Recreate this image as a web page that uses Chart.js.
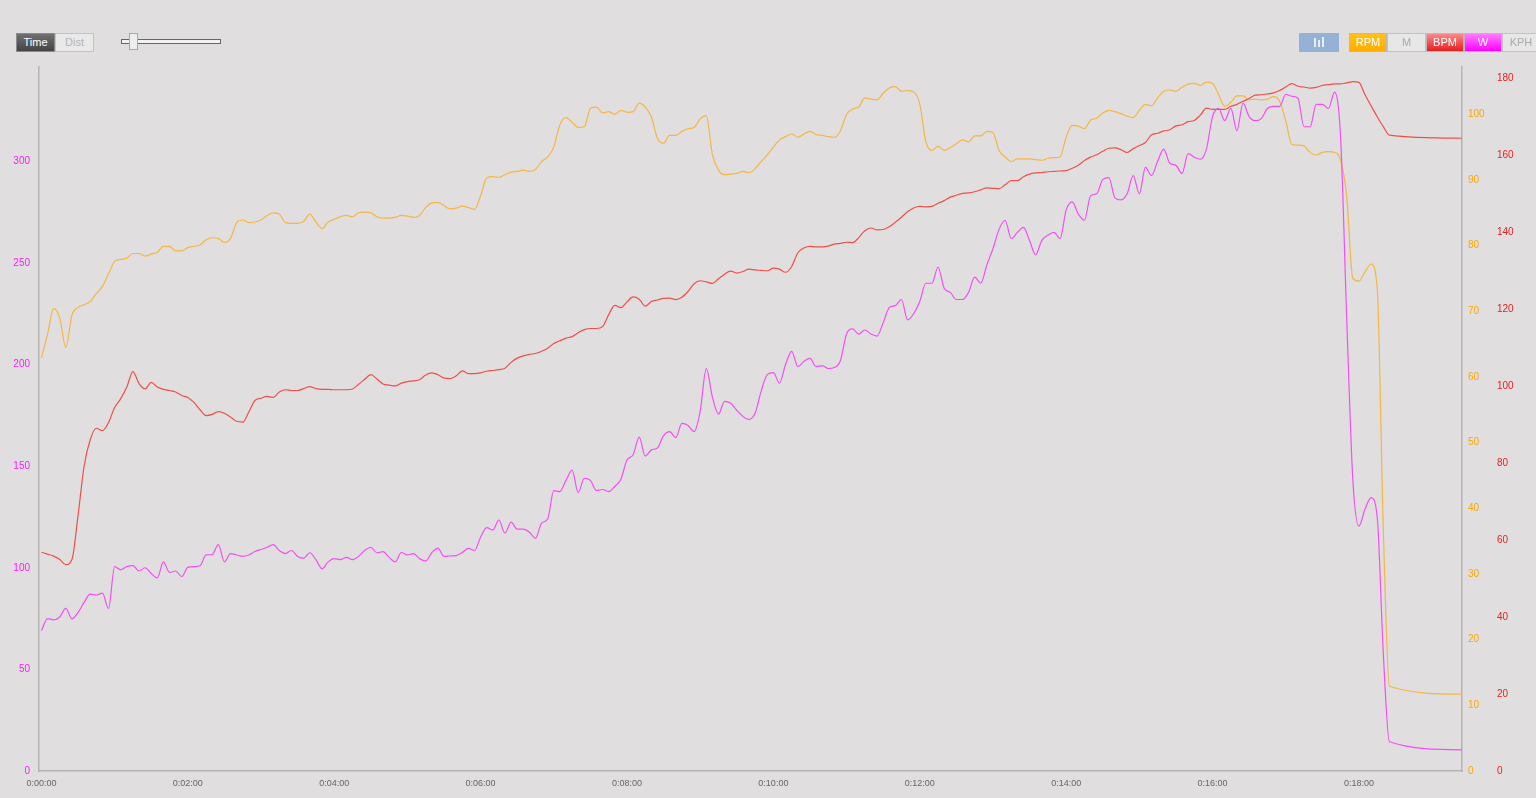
<!DOCTYPE html>
<html>
<head>
<meta charset="utf-8">
<title>Ride chart</title>
<script src="https://cdn.jsdelivr.net/npm/chart.js@4.4.0/dist/chart.umd.min.js"></script>
<style>
  html, body { margin: 0; padding: 0; width: 1536px; height: 798px; overflow: hidden; background: #e0dedf; font-family: "Liberation Sans", Arial, sans-serif; }
  #chart { position: absolute; left: 0; top: 0; }
  .btn { position: absolute; top: 33px; height: 19px; box-sizing: border-box; font-size: 11px; line-height: 17px; text-align: center; border: 1px solid #c2c2c2; z-index: 2; }
  .time { left: 16px; width: 39px; background: linear-gradient(#707070, #444); color: #fff; border-color: #8a8a8a; }
  .dist { left: 55px; width: 39px; background: #e9e9e9; color: #b4b4b4; }
  .track { position: absolute; left: 121px; top: 39px; width: 98px; height: 3px; background: #f2f2f2; border: 1px solid #666; z-index: 2; }
  .thumb { position: absolute; left: 129px; top: 33px; width: 9px; height: 17px; box-sizing: border-box; background: #eee; border: 1px solid #a8a8a8; z-index: 3; }
  .icon { left: 1299px; width: 40px; background: #93b2d5; border-color: #93b2d5; }
  .icon i { position: absolute; bottom: 4px; width: 2px; background: #e8eef6; }
  .rpm { left: 1349px; width: 38px; background: linear-gradient(#ffc21a, #ffad00); color: #fff; border-color: #b9b9b9; }
  .m { left: 1387px; width: 39px; background: #e7e7e7; color: #aaa; }
  .bpm { left: 1426px; width: 38px; background: linear-gradient(#f88, #e32020); color: #fff; border-color: #b9b9b9; }
  .w { left: 1464px; width: 38px; background: linear-gradient(#ff7bff, #f0f); color: #fff; border-color: #b9b9b9; }
  .kph { left: 1502px; width: 38px; background: #e7e7e7; color: #aaa; }
</style>
</head>
<body>
<div class="btn time">Time</div>
<div class="btn dist">Dist</div>
<div class="track"></div>
<div class="thumb"></div>
<div class="btn icon"><i style="left:14px;height:9px"></i><i style="left:18px;height:7px"></i><i style="left:22px;height:10px"></i></div>
<div class="btn rpm">RPM</div>
<div class="btn m">M</div>
<div class="btn bpm">BPM</div>
<div class="btn w">W</div>
<div class="btn kph">KPH</div>
<canvas id="chart" width="1536" height="798"></canvas>
<script>
// samples every 5 s, last value is the end of the ride
const sampleStep = 5;
const endSeconds = 1165;

const timeTicks = [0, 120, 240, 360, 480, 600, 720, 840, 960, 1080];
const wattTicks = [0, 50, 100, 150, 200, 250, 300];
const rpmTicks = [0, 10, 20, 30, 40, 50, 60, 70, 80, 90, 100];
const bpmTicks = [0, 20, 40, 60, 80, 100, 120, 140, 160, 180];

const rpm = [
  62.9, 66.5, 70.4, 69.0, 64.5, 69.4, 70.6, 71.0, 71.5, 72.7,
  73.8, 75.7, 77.6, 77.9, 78.1, 78.8, 78.8, 78.4, 78.7, 79.0,
  79.9, 79.9, 79.2, 79.2, 79.7, 79.9, 80.1, 80.9, 81.2, 81.1,
  80.5, 81.1, 83.5, 83.9, 83.5, 83.6, 83.9, 84.6, 85.0, 84.8,
  83.5, 83.4, 83.4, 83.7, 84.8, 83.6, 82.6, 83.6, 84.0, 84.4,
  84.6, 84.4, 85.0, 85.1, 85.0, 84.4, 84.2, 84.2, 84.3, 84.6,
  84.5, 84.3, 84.6, 85.8, 86.5, 86.6, 86.1, 85.6, 85.7, 86.0,
  85.8, 85.5, 87.6, 90.3, 90.5, 90.4, 90.8, 91.2, 91.3, 91.5,
  91.3, 91.6, 92.8, 93.5, 95.0, 98.4, 99.5, 98.8, 98.0, 98.1,
  100.9, 101.1, 100.2, 100.4, 100.0, 100.6, 100.3, 100.4, 101.7, 101.1,
  99.6, 96.3, 95.6, 96.8, 96.8, 97.4, 97.8, 98.0, 99.3, 99.8,
  93.9, 91.5, 90.8, 90.9, 91.0, 91.3, 91.1, 91.7, 92.8, 93.8,
  95.0, 96.1, 96.6, 97.0, 96.5, 97.0, 97.4, 96.9, 96.8, 96.6,
  96.5, 97.5, 100.0, 100.8, 101.1, 102.5, 102.3, 102.2, 103.2, 104.0,
  104.2, 103.5, 103.6, 103.4, 101.6, 95.8, 94.5, 95.1, 94.5, 94.9,
  95.5, 96.1, 95.8, 96.7, 96.7, 97.4, 97.2, 94.5, 93.5, 92.8,
  93.2, 93.2, 93.2, 93.1, 93.0, 93.3, 93.4, 93.5, 96.5, 98.3,
  98.2, 97.8, 99.1, 99.4, 100.2, 100.6, 100.4, 100.1, 99.7, 99.5,
  100.6, 101.5, 101.3, 102.5, 103.5, 103.7, 103.5, 104.1, 104.6, 104.7,
  104.4, 104.9, 104.7, 103.0, 101.2, 101.8, 102.8, 102.8, 102.2, 102.3,
  102.2, 102.3, 102.7, 102.0, 99.0, 95.4, 95.3, 95.2, 94.2, 93.8,
  94.2, 94.3, 94.2, 93.0, 87.5, 75.0, 74.6, 76.0, 77.2, 73.5,
  36.8, 12.9, 11.7
];

const bpm = [
  56.8, 56.3, 55.8, 54.9, 53.6, 54.9, 66.3, 79.2, 86.0, 89.0,
  88.4, 90.5, 94.4, 96.7, 99.7, 103.7, 100.6, 99.2, 100.9, 99.7,
  99.1, 98.8, 98.4, 97.5, 97.0, 95.7, 93.8, 92.3, 92.6, 93.3,
  92.9, 91.9, 90.8, 90.6, 93.2, 96.2, 96.8, 97.3, 97.0, 98.4,
  99.0, 98.8, 98.8, 99.3, 99.8, 99.3, 99.1, 99.1, 99.0, 99.0,
  99.0, 99.2, 100.4, 101.7, 102.9, 101.8, 100.5, 100.2, 100.0, 100.7,
  101.1, 101.3, 101.6, 102.8, 103.4, 102.9, 102.0, 101.9, 102.6, 103.9,
  103.2, 103.2, 103.4, 103.8, 104.0, 104.2, 104.6, 106.1, 107.2, 107.8,
  108.2, 108.4, 109.0, 109.8, 111.0, 111.7, 112.4, 112.8, 113.8, 114.6,
  114.9, 114.9, 115.4, 118.5, 120.9, 120.3, 121.8, 123.1, 122.5, 120.7,
  121.9, 122.3, 122.7, 122.8, 122.4, 123.0, 124.5, 126.5, 127.3, 127.0,
  126.6, 127.8, 129.0, 129.8, 129.3, 129.7, 130.3, 130.1, 130.0, 129.9,
  130.6, 130.3, 129.5, 131.0, 134.5, 135.8, 136.2, 136.1, 136.1, 136.3,
  136.8, 137.0, 137.3, 137.2, 138.5, 140.3, 141.0, 140.5, 140.6, 141.3,
  142.5, 143.8, 145.2, 146.2, 146.6, 146.5, 146.6, 147.4, 148.1, 149.0,
  149.5, 150.0, 150.1, 150.4, 150.9, 151.4, 151.3, 151.2, 152.2, 153.3,
  153.3, 154.3, 155.0, 155.3, 155.4, 155.6, 155.7, 155.8, 155.9, 156.5,
  157.3, 158.5, 159.4, 160.0, 160.9, 161.7, 161.8, 161.3, 160.6, 161.6,
  162.4, 163.2, 165.2, 165.6, 166.2, 166.5, 167.5, 167.8, 168.6, 168.9,
  170.3, 172.1, 171.8, 171.8, 171.8, 172.6, 173.1, 173.9, 174.6, 175.5,
  175.6, 175.8, 176.1, 176.7, 177.6, 178.5, 177.8, 177.6, 177.3, 177.5,
  178.0, 178.2, 178.4, 178.4, 178.7, 179.0, 178.8, 175.6, 172.7, 169.9,
  167.3, 165.1, 164.3
];

const watts = [
  69, 75, 74.4, 75.8, 80, 74.9, 78, 83, 87, 86.6,
  87.5, 80, 100.6, 99, 100.6, 101.1, 98.4, 100, 97.2, 95,
  102.9, 97.7, 98.4, 95.7, 100.2, 100.6, 101, 106.3, 106.5, 111.4,
  102.9, 107, 106.3, 105.6, 106.3, 108, 109, 110.1, 111.4, 108.5,
  107, 108.5, 105.6, 104.7, 107.4, 104, 99.5, 102.9, 104.5, 104,
  105.1, 104, 105.6, 108.5, 110.1, 107.4, 107.9, 105.1, 102.9, 107.5,
  106.3, 107.0, 104.5, 103.3, 107.4, 109.7, 105.6, 105.8, 106, 107.5,
  109.5, 108.5, 115, 119.8, 118.5, 123.5, 117, 122.5, 119, 119,
  117.5, 114.5, 122, 124, 138, 137.5, 143, 148, 137, 144,
  143, 138, 138.5, 137.5, 140, 143.5, 153, 155.5, 164.3, 155,
  158, 159, 165, 167, 164, 171, 170, 167, 177, 198,
  184, 175.6, 181.9, 181, 177.5, 174.5, 173, 176, 186.9, 195,
  196, 190.9, 200, 206.5, 199, 201.5, 203, 199, 199.5, 198,
  198.5, 202, 215, 217.5, 215, 217, 215, 214, 220.5, 228,
  229, 232, 222, 225, 231, 240, 240, 248, 237.5, 235.5,
  232, 232, 235.5, 243, 240, 249, 257, 266.5, 271, 262,
  265, 267.5, 261, 254, 261, 263.6, 265, 262, 276, 280,
  274, 271, 283, 284, 291, 292, 282, 281, 284, 293,
  284, 297, 293, 300, 306, 299, 298, 294, 303.8, 302,
  301, 306, 322, 326, 320, 326, 315, 328.6, 322, 320,
  321, 326, 327, 327, 333, 332, 331, 317, 317, 328,
  328, 326, 334, 311.6, 222.5, 143.5, 120.5, 128.8, 134.5, 125,
  57.7, 14.4, 10.4
];

// x position of each sample (the last one is the end of the ride)
const seconds = rpm.map((_, i) => (i < rpm.length - 1 ? i * sampleStep : endSeconds));

function clock(sec) {
  const h = Math.floor(sec / 3600);
  const m = Math.floor((sec % 3600) / 60);
  const s = Math.round(sec % 60);
  return h + ':' + String(m).padStart(2, '0') + ':' + String(s).padStart(2, '0');
}

function points(values) {
  return values.map((v, i) => ({ x: seconds[i], y: v }));
}

function fixTicks(list) {
  return scale => { scale.ticks = list.map(v => ({ value: v })); };
}

const labelFont = { size: 10, family: 'Liberation Sans' };

new Chart(document.getElementById('chart'), {
  type: 'line',
  data: {
    datasets: [
      { label: 'W', yAxisID: 'watts', data: points(watts), borderColor: '#f34ff3', borderWidth: 1.2, pointRadius: 0, cubicInterpolationMode: 'monotone' },
      { label: 'BPM', yAxisID: 'bpm', data: points(bpm), borderColor: '#ee5049', borderWidth: 1.2, pointRadius: 0, cubicInterpolationMode: 'monotone' },
      { label: 'RPM', yAxisID: 'rpm', data: points(rpm), borderColor: '#f5b645', borderWidth: 1.2, pointRadius: 0, cubicInterpolationMode: 'monotone' }
    ]
  },
  options: {
    responsive: false,
    animation: false,
    layout: { padding: { top: 67, left: 0, right: 0, bottom: 0 } },
    plugins: { legend: { display: false }, tooltip: { enabled: false } },
    scales: {
      x: {
        type: 'linear', min: -2, max: 1164.5,
        afterBuildTicks: fixTicks(timeTicks),
        afterFit: s => { s.height = 27; },
        grid: { display: false, drawTicks: false },
        border: { display: true, color: '#b4b4b4', width: 1.5 },
        ticks: { padding: 7, color: '#666', maxRotation: 0, autoSkip: false, font: { size: 9, family: 'Liberation Sans' }, callback: v => clock(v) }
      },
      watts: {
        position: 'left', min: 0, max: 346.4,
        afterBuildTicks: fixTicks(wattTicks),
        afterFit: s => { s.width = 39; },
        grid: { display: false, drawTicks: false },
        border: { display: true, color: '#b4b4b4', width: 1.5 },
        ticks: { padding: 9, color: '#ff1aff', font: labelFont }
      },
      rpm: {
        position: 'right', min: 0, max: 107.2,
        afterBuildTicks: fixTicks(rpmTicks),
        afterFit: s => { s.width = 30; },
        grid: { display: false, drawTicks: false },
        border: { display: true, color: '#b4b4b4', width: 1.5 },
        ticks: { padding: 6, color: '#ffa600', font: labelFont }
      },
      bpm: {
        position: 'right', min: 0, max: 182.8,
        afterBuildTicks: fixTicks(bpmTicks),
        afterFit: s => { s.width = 44; },
        grid: { display: false, drawTicks: false },
        border: { display: false },
        ticks: { padding: 5, color: '#e82020', font: labelFont }
      }
    }
  }
});
</script>
</body>
</html>
